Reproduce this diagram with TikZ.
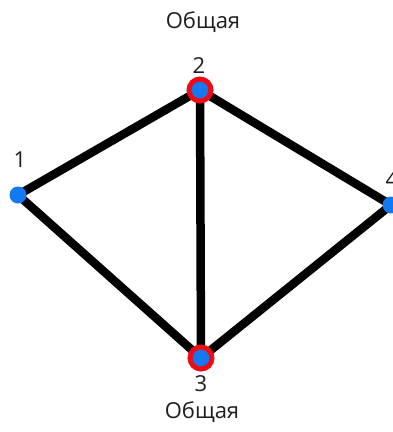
\documentclass[tikz,border=0pt]{standalone}
\usepackage{fontspec}
\setmainfont{Open Sans}
\begin{document}
\begin{tikzpicture}[x=1pt,y=-1pt,
  edge/.style={line width=8.5pt,black},
  vtx/.style={circle,fill={rgb,255:red,20;green,120;blue,240},minimum size=17pt,inner sep=0pt},
  shared/.style={vtx,draw={rgb,255:red,240;green,10;blue,20},line width=5pt,minimum size=22pt},
  lbl/.style={font=\fontsize{22}{26}\selectfont,text={rgb,255:red,30;green,30;blue,30},inner sep=0pt}]
\useasboundingbox (0,0) rectangle (393,432);
\begin{scope}
\clip (0,0) rectangle (393,432);
\coordinate (p1) at (18,195);
\coordinate (p2) at (200,90);
\coordinate (p3) at (201,358);
\coordinate (p4) at (391,205);
\draw[edge] (p1) -- (p2);
\draw[edge] (p1) -- (p3);
\draw[edge] (p2) -- (p3);
\draw[edge] (p2) -- (p4);
\draw[edge] (p3) -- (p4);
\node[vtx] (n1) at (p1) {};
\node[shared] (n2) at (p2) {};
\node[shared] (n3) at (p3) {};
\node[vtx] (n4) at (p4) {};
\node[lbl] (l1) at (20,160) {1};
\node[lbl] (l2) at (199,66) {2};
\node[lbl] (g2) at (203,22) {Общая};
\node[lbl] (l3) at (201,384) {3};
\node[lbl] (g3) at (202,412) {Общая};
\node[lbl] (l4) at (392,180) {4};
\end{scope}
\end{tikzpicture}
\end{document}
